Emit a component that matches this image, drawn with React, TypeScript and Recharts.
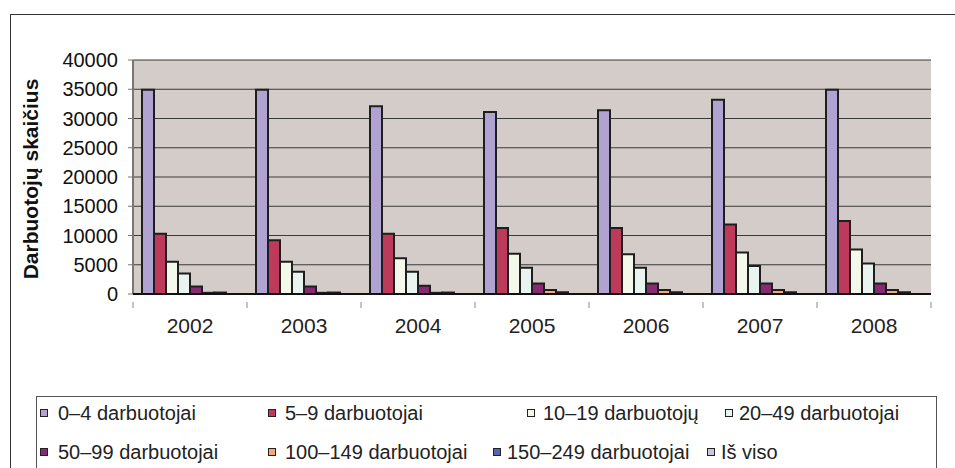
import { BarChart, Bar, XAxis, YAxis, CartesianGrid } from 'recharts';

const years = ['2002', '2003', '2004', '2005', '2006', '2007', '2008'];

const d0_4 = [34900, 34900, 32100, 31100, 31400, 33200, 34900];
const d5_9 = [10300, 9200, 10300, 11300, 11300, 11900, 12500];
const d10_19 = [5500, 5500, 6100, 6900, 6800, 7100, 7600];
const d20_49 = [3500, 3800, 3800, 4500, 4500, 4800, 5200];
const d50_99 = [1300, 1300, 1400, 1800, 1800, 1800, 1800];
const d100_149 = [200, 200, 200, 700, 700, 700, 700];
const d150_249 = [250, 250, 250, 300, 300, 300, 300];
const dTotal = [null, null, null, null, null, null, null];

const seriesNames = [
  '0–4 darbuotojai',
  '5–9 darbuotojai',
  '10–19 darbuotojų',
  '20–49 darbuotojai',
  '50–99 darbuotojai',
  '100–149 darbuotojai',
  '150–249 darbuotojai',
  'Iš viso',
];
const seriesValues = [d0_4, d5_9, d10_19, d20_49, d50_99, d100_149, d150_249, dTotal];
const colors = ['#B1A3D1', '#BE3A5A', '#F4F8EA', '#E9F4F1', '#862B72', '#F5A67B', '#5565B5', '#CDC3E0'];

const yTicks = [0, 5000, 10000, 15000, 20000, 25000, 30000, 35000, 40000];

const data = years.map((year, i) => {
  const row: Record<string, string | number | null> = { year };
  seriesValues.forEach((vals, k) => {
    row['s' + k] = vals[i];
  });
  return row;
});

const font = '"Liberation Sans", Arial, sans-serif';

// legend laid out like the original (two rows, four entries each)
const legendMarkerX = [40, 268, 527, 725, 40, 268, 493, 707];
const legendTextX = [58, 285, 543, 739, 58, 285, 507, 721];
const legendRowY = [413, 452];

function YLabel(props: any) {
  const vb = props.viewBox || { x: 0, y: 0, width: 0, height: 0 };
  const cx = vb.x + 30;
  const cy = vb.y + vb.height / 2 + 2;
  return (
    <text
      x={cx}
      y={cy}
      transform={`rotate(-90 ${cx} ${cy})`}
      textAnchor="middle"
      dominantBaseline="central"
      fontFamily={font}
      fontWeight="bold"
      fontSize={21}
      fill="#111"
    >
      Darbuotojų skaičius
    </text>
  );
}

// category label plus tick marks on the category boundaries
function YearTick(props: any) {
  const { x, y, payload, index, visibleTicksCount } = props;
  const half = payload.offset || 0;
  const last = index === (visibleTicksCount || years.length) - 1;
  return (
    <g>
      <line x1={x - half} x2={x - half} y1={y} y2={y + 6} stroke="#888" />
      {last && <line x1={x + half} x2={x + half} y1={y} y2={y + 6} stroke="#888" />}
      <text x={x} y={y + 31} textAnchor="middle" fontFamily={font} fontSize={21} fill="#222">
        {payload.value}
      </text>
    </g>
  );
}

export default function App() {
  return (
    <div style={{ position: 'fixed', left: 0, top: 0, width: 955, height: 468, background: '#fff', overflow: 'hidden' }}>
      <div
        style={{
          position: 'absolute',
          left: 10,
          top: 14,
          width: 960,
          height: 470,
          borderLeft: '1px solid #333',
          borderTop: '1px solid #333',
        }}
      />
      <div style={{ position: 'absolute', left: 0, top: 0 }}>
        <BarChart
          width={955}
          height={468}
          data={data}
          margin={{ top: 60, right: 24, left: 0, bottom: 134 }}
          barSize={12}
          barGap={0}
        >
          <CartesianGrid vertical={false} stroke="#3a3a3a" fill="#D4CCC9" />
          <YAxis
            width={133}
            domain={[0, 40000]}
            ticks={yTicks}
            interval={0}
            tickSize={5}
            tickMargin={10}
            axisLine={{ stroke: '#777', strokeWidth: 2 }}
            tickLine={{ stroke: '#777' }}
            tick={{ fontSize: 20, fontFamily: font, fill: '#111' }}
            label={{ content: <YLabel /> }}
          />
          <YAxis
            yAxisId="right"
            orientation="right"
            width={0}
            tick={false}
            tickLine={false}
            axisLine={{ stroke: '#999', strokeWidth: 2 }}
          />
          <XAxis
            dataKey="year"
            height={40}
            interval={0}
            tickLine={false}
            axisLine={{ stroke: '#111', strokeWidth: 2 }}
            tick={<YearTick />}
          />
          {seriesNames.map((name, k) => (
            <Bar
              key={name}
              dataKey={'s' + k}
              name={name}
              fill={colors[k]}
              stroke="#1e1e1e"
              strokeWidth={2}
              isAnimationActive={false}
            />
          ))}
        </BarChart>
      </div>
      <div
        style={{
          position: 'absolute',
          left: 36,
          top: 396,
          width: 899,
          height: 100,
          border: '1px solid #555',
        }}
      />
      {seriesNames.map((name, k) => {
        const row = k < 4 ? 0 : 1;
        const cy = legendRowY[row];
        return (
          <div key={name}>
            <div
              style={{
                position: 'absolute',
                left: legendMarkerX[k],
                top: cy - 4,
                width: 6,
                height: 6,
                background: colors[k],
                border: '1.5px solid #222',
              }}
            />
            <div
              style={{
                position: 'absolute',
                left: legendTextX[k],
                top: cy - 12,
                fontFamily: font,
                fontSize: 20,
                lineHeight: '24px',
                color: '#222',
                whiteSpace: 'nowrap',
              }}
            >
              {name}
            </div>
          </div>
        );
      })}
    </div>
  );
}
